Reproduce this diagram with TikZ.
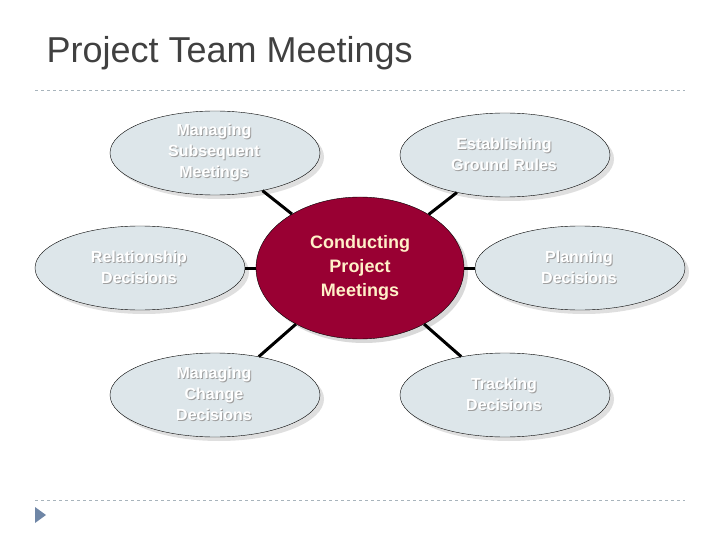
\documentclass[tikz,border=0pt]{standalone}
\usepackage{fontspec}
\setmainfont{Liberation Sans}
\usetikzlibrary{shapes.geometric}
\definecolor{ebg}{HTML}{DDE6EA}
\definecolor{cred}{HTML}{990033}
\definecolor{ctxt}{HTML}{FFF0C8}
\definecolor{dashcol}{HTML}{A8B4BC}
\definecolor{tri}{HTML}{6F86A6}
\tikzset{
 outer/.style={ellipse,draw=black,thin,fill=ebg,minimum width=210pt,minimum height=84pt,inner sep=0pt,align=center,font=\bfseries\fontsize{16}{21}\selectfont,text=gray!75},
 ltext/.style={align=center,font=\bfseries\fontsize{16}{21}\selectfont,text=white,inner sep=0pt},
 shadowel/.style={ellipse,fill=gray!25,minimum width=210pt,minimum height=84pt},
 conn/.style={line width=3pt,black},
 sepline/.style={dashcol,dashed,line width=0.8pt},
}
\begin{document}
\begin{tikzpicture}[x=1pt,y=-1pt]
\useasboundingbox (0,0) rectangle (720,540);
\node[anchor=west,font=\fontsize{36}{40}\selectfont,text=black!75] (title) at (43,53) {Project Team Meetings};
\draw[sepline] (35,90) coordinate (d1) -- (685,90) coordinate (d2);
\draw[sepline] (35,500) coordinate (d3) -- (685,500) coordinate (d4);
\fill[tri] (35,507) -- (46,515) -- (35,523) -- cycle;
\foreach \p in {(219,157),(509,159),(144,272),(584,272),(219,399),(509,399)}
  \node[shadowel] at \p {};
\node[outer] (ms) at (215,153) {Managing\\Subsequent\\Meetings};
\node[outer] (eg) at (505,155) {Establishing\\Ground Rules};
\node[outer] (rd) at (140,268) {Relationship\\Decisions};
\node[outer] (pd) at (580,268) {Planning\\Decisions};
\node[outer] (mc) at (215,395) {Managing\\Change\\Decisions};
\node[outer] (td) at (505,395) {Tracking\\Decisions};
\node[ltext] (msl) at ([shift={(-1,-1)}]ms.center) {Managing\\Subsequent\\Meetings};
\node[ltext] (egl) at ([shift={(-1,-1)}]eg.center) {Establishing\\Ground Rules};
\node[ltext] (rdl) at ([shift={(-1,-1)}]rd.center) {Relationship\\Decisions};
\node[ltext] (pdl) at ([shift={(-1,-1)}]pd.center) {Planning\\Decisions};
\node[ltext] (mcl) at ([shift={(-1,-1)}]mc.center) {Managing\\Change\\Decisions};
\node[ltext] (tdl) at ([shift={(-1,-1)}]td.center) {Tracking\\Decisions};
\node[ellipse,fill=gray!30,minimum width=208pt,minimum height=142pt] at (364,272) {};
\node[ellipse,draw=black,fill=cred,minimum width=208pt,minimum height=142pt,inner sep=0pt,align=center,font=\bfseries\fontsize{18}{24}\selectfont,text=ctxt] (c) at (360,268) {Conducting\\Project\\Meetings};
\foreach \n in {ms,eg,rd,pd,mc,td} \draw[conn] (c) -- (\n);
\end{tikzpicture}
\end{document}
